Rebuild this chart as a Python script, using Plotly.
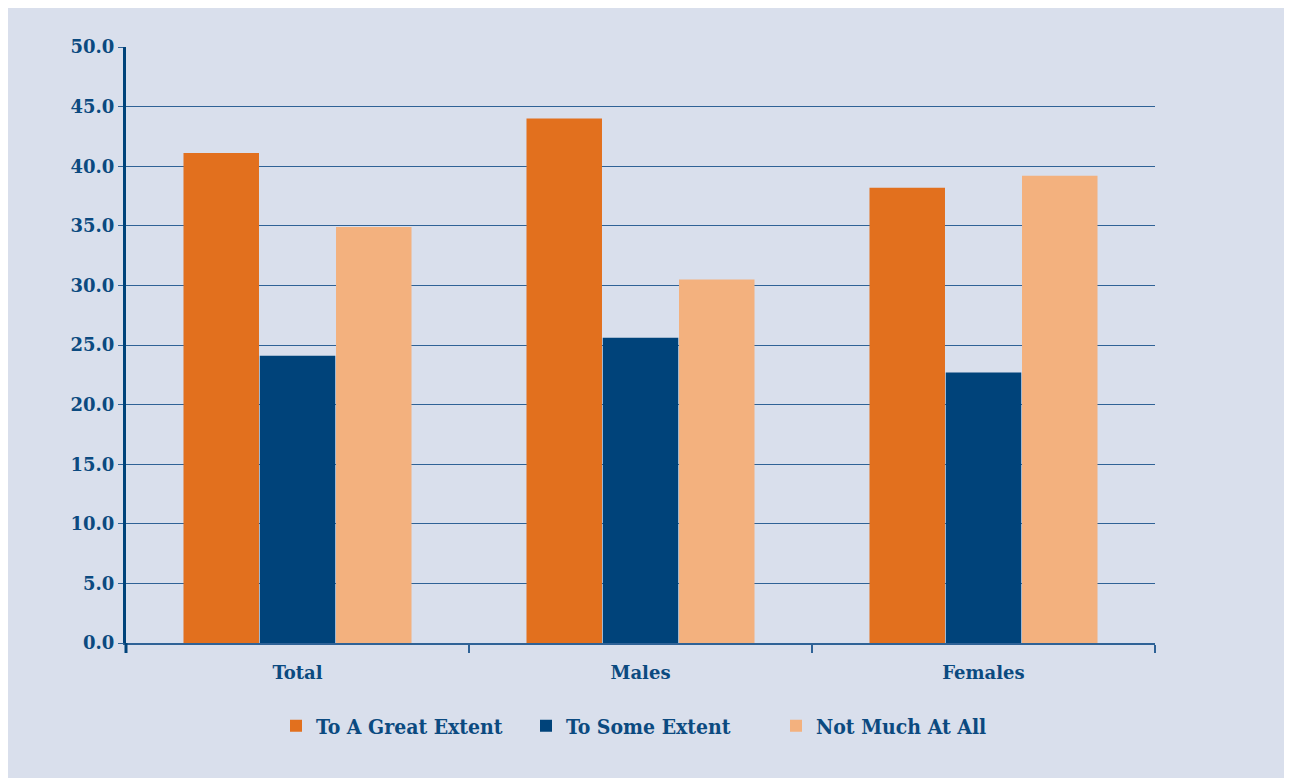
import plotly.graph_objects as go

categories = ["Total", "Males", "Females"]
series_names = ["To A Great Extent", "To Some Extent", "Not Much At All"]
great_extent = [41.1, 44.0, 38.2]
some_extent = [24.1, 25.6, 22.7]
not_much = [34.9, 30.5, 39.2]
y_ticks = [0, 5, 10, 15, 20, 25, 30, 35, 40, 45, 50]

colors = ["#E2701E", "#00437A", "#F3B17E"]
text_color = "#0B4A80"
bg = "#D9DFEC"
serif = "DejaVu Serif, serif"
serif_cond = "DejaVu Serif Condensed, DejaVu Serif, serif"

fig = go.Figure()
for name, vals, col in zip(series_names, [great_extent, some_extent, not_much], colors):
    fig.add_trace(go.Bar(
        x=categories, y=vals, name=name,
        marker=dict(color=col, line=dict(width=0)),
    ))

W, H = 1282, 770
L, R, T, B = 118, 135, 39, 135
pw, ph = W - L - R, H - T - B

fig.update_layout(
    width=W, height=H,
    margin=dict(l=L, r=R, t=T, b=B, pad=0),
    paper_bgcolor=bg,
    plot_bgcolor=bg,
    barmode="group",
    bargap=0.333,
    bargroupgap=0.01,
    font=dict(family=serif, color=text_color, size=18),
    showlegend=True,
    legend=dict(
        orientation="h", x=(268 - L) / pw, xanchor="left", y=-(718 - (T + ph)) / ph, yanchor="middle",
        font=dict(size=21, family=serif_cond, color=text_color, weight="bold"),
        itemwidth=30, bgcolor="rgba(0,0,0,0)", traceorder="normal",
        entrywidth=205, entrywidthmode="pixels",
    ),
    shapes=[
        dict(type="line", xref="paper", yref="paper",
             x0=0, x1=0, y0=-10 / ph, y1=0,
             line=dict(color="#00437A", width=3)),
    ],
)

fig.update_yaxes(
    range=[0, 50], tickvals=y_ticks, tickformat=".1f",
    showgrid=True, gridcolor="#2F6296", gridwidth=1,
    zeroline=False,
    showline=True, linecolor="#00437A", linewidth=3,
    ticks="outside", ticklen=5, tickcolor="#2F6296", tickwidth=1,
    tickfont=dict(size=18, family=serif, color=text_color, weight="bold"),
    fixedrange=True,
)
fig.update_xaxes(
    showline=True, linecolor="#2F6296", linewidth=2,
    ticks="outside", tickson="boundaries", ticklen=8, tickcolor="#2F6296", tickwidth=2,
    showgrid=False, ticklabelstandoff=12,
    tickfont=dict(size=18, family=serif, color=text_color, weight="bold"),
    fixedrange=True,
)

fig.write_html("out.html")
